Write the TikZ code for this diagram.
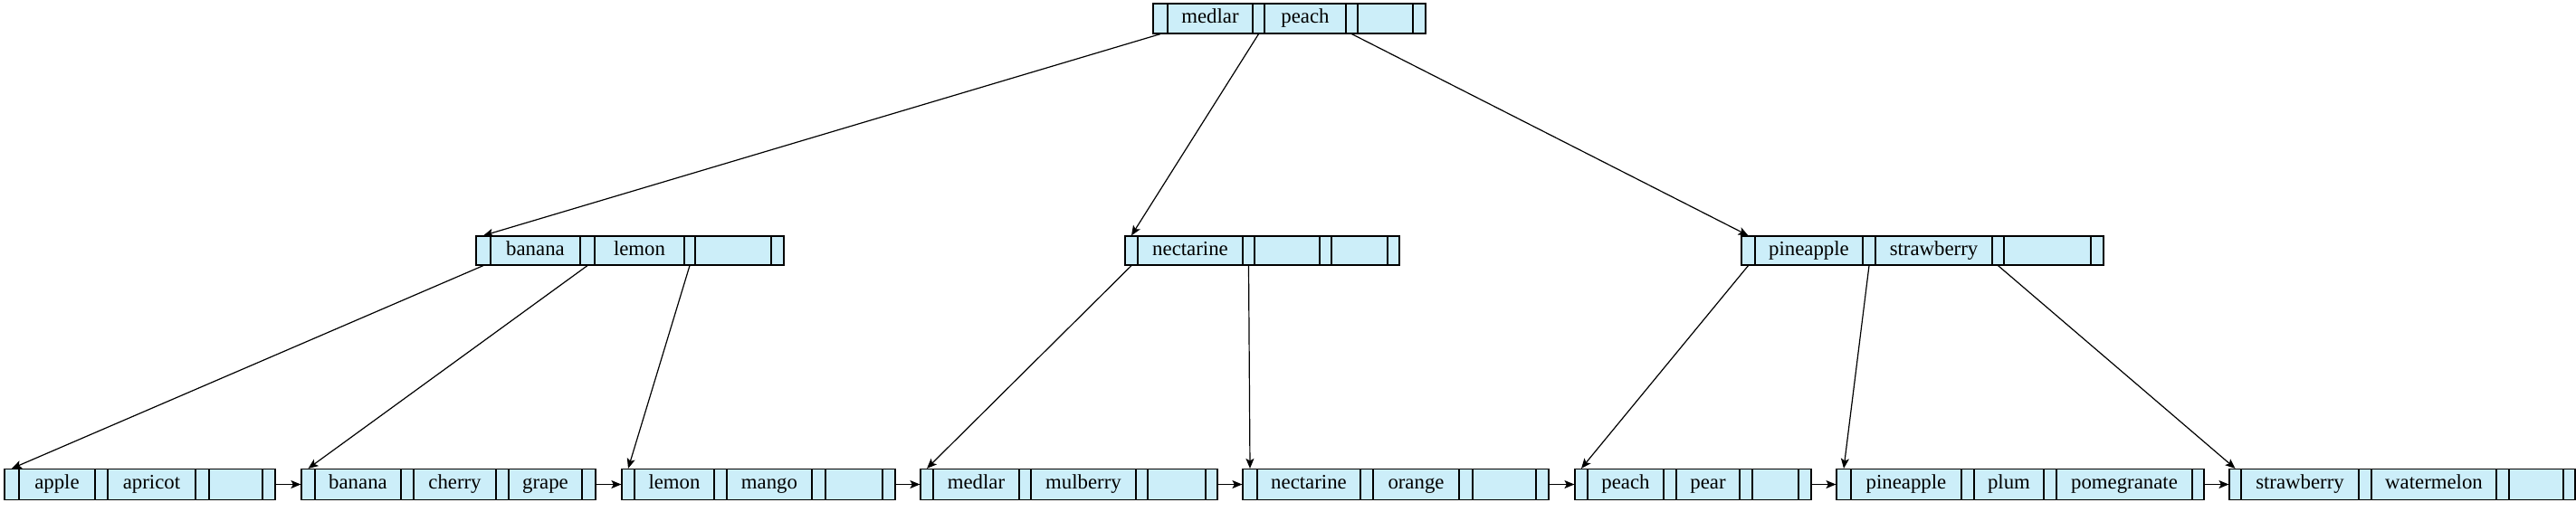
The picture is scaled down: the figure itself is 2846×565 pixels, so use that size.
\documentclass[tikz,border=0pt]{standalone}
\usepackage{fontspec}
\setmainfont{Liberation Serif}
\usetikzlibrary{arrows.meta}
\definecolor{cellfill}{RGB}{204,238,249}
\tikzset{
  cell/.style={draw=black, fill=cellfill, line width=1.2pt, rectangle, inner sep=0pt,
    font=\fontsize{22.8}{27}\selectfont},
  link/.style={line width=1.2pt, -{Stealth[length=11pt,width=9pt,inset=2.5pt]}}
}
% #1 name, #2 y centre, #3 height, #4 list of xa/xb/label
\newcommand\bnode[4]{%
  \foreach \xa/\xb/\lab [count=\i] in {#4} {%
    \node[cell, minimum width={(\xb-\xa)*1pt}, minimum height=#3pt] (#1-\i) at ({(\xa+\xb)/2},#2) {\strut\lab};
  }%
}
\begin{document}
\begin{tikzpicture}[x=1pt,y=-1pt]
\useasboundingbox (0,0) rectangle (2846,565);
% root
\bnode{r}{20.5}{33}{1274/1290/{},1290/1384/medlar,1384/1397/{},1397/1487/peach,1487/1500/{},1500/1561/{},1561/1575/{}}
% level 2
\bnode{a}{277}{32}{526/542/{},542/641/banana,641/657/{},657/756/lemon,756/768/{},768/852/{},852/866/{}}
\bnode{b}{277}{32}{1243/1257/{},1257/1373/nectarine,1373/1386/{},1386/1458/{},1458/1471/{},1471/1533/{},1533/1546/{}}
\bnode{c}{277}{32}{1924/1939/{},1939/2058/pineapple,2058/2072/{},2072/2201/strawberry,2201/2214/{},2214/2310/{},2310/2324/{}}
% leaves
\bnode{la}{535.5}{34}{5/21/{},21/105/apple,105/119/{},119/216/apricot,216/231/{},231/290/{},290/304/{}}
\bnode{lb}{535.5}{34}{333/348/{},348/443/banana,443/457/{},457/548/cherry,548/562/{},562/643/grape,643/658/{}}
\bnode{lc}{535.5}{34}{687/701/{},701/789/lemon,789/803/{},803/897/mango,897/912/{},912/975/{},975/989/{}}
\bnode{ld}{535.5}{34}{1017/1031/{},1031/1126/medlar,1126/1139/{},1139/1255/mulberry,1255/1268/{},1268/1332/{},1332/1345/{}}
\bnode{le}{535.5}{34}{1373/1389/{},1389/1503/nectarine,1503/1517/{},1517/1612/orange,1612/1627/{},1627/1697/{},1697/1711/{}}
\bnode{lf}{535.5}{34}{1740/1754/{},1754/1838/peach,1838/1852/{},1852/1922/pear,1922/1936/{},1936/1987/{},1987/2001/{}}
\bnode{lg}{535.5}{34}{2029/2045/{},2045/2167/pineapple,2167/2181/{},2181/2258/plum,2258/2272/{},2272/2422/pomegranate,2422/2435/{}}
\bnode{lh}{535.5}{34}{2463/2476/{},2476/2606/strawberry,2606/2620/{},2620/2758/watermelon,2758/2772/{},2772/2832/{},2832/2845/{}}
% tree pointers
\draw[link] (r-1.south) -- (a-1.north);
\draw[link] (r-3.south) -- (b-1.north);
\draw[link] (r-5.south) -- (c-1.north);
\draw[link] (a-1.south) -- (la-1.north);
\draw[link] (a-3.south) -- (lb-1.north);
\draw[link] (a-5.south) -- (lc-1.north);
\draw[link] (b-1.south) -- (ld-1.north);
\draw[link] (b-3.south) -- (le-1.north);
\draw[link] (c-1.south) -- (lf-1.north);
\draw[link] (c-3.south) -- (lg-1.north);
\draw[link] (c-5.south) -- (lh-1.north);
% leaf chain
\draw[link] (la-7.east) -- (lb-1.west);
\draw[link] (lb-7.east) -- (lc-1.west);
\draw[link] (lc-7.east) -- (ld-1.west);
\draw[link] (ld-7.east) -- (le-1.west);
\draw[link] (le-7.east) -- (lf-1.west);
\draw[link] (lf-7.east) -- (lg-1.west);
\draw[link] (lg-7.east) -- (lh-1.west);
\end{tikzpicture}
\end{document}
